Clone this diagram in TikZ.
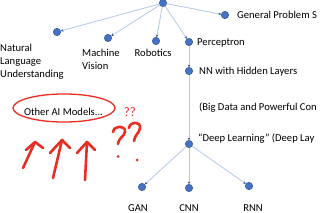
\documentclass[tikz,border=0pt]{standalone}
\usepackage{fontspec}
\setmainfont{Carlito}
\usetikzlibrary{arrows.meta,shapes.geometric}
\definecolor{dotblue}{RGB}{68,114,196}
\definecolor{dotedge}{RGB}{47,82,143}
\definecolor{edgeblue}{RGB}{180,199,231}
\definecolor{penred}{RGB}{232,45,35}
\begin{document}
\begin{tikzpicture}[x=1pt,y=-1pt,every node/.style={font=\fontsize{10.6}{13}\selectfont},
  dot/.style={circle,fill=dotblue,draw=dotedge,line width=0.4pt,minimum size=7.5pt,
    inner sep=0pt},
  lbl/.style={anchor=base west,inner sep=0pt},
  lblc/.style={anchor=base,inner sep=0pt},
  ed/.style={edgeblue,line width=0.8pt,-{Stealth[length=2.5pt,width=2.6pt,dotedge]}},
  pen/.style={penred,line width=2.6pt,line cap=round,line join=round}]
\useasboundingbox (0,0) rectangle (320,213);
\clip (0,0) rectangle (320,213);
\node[dot] (top) at (163,3) {};
\node[dot] (nlu) at (57,32) {};
\node[dot] (mv) at (108,38) {};
\node[dot] (rob) at (156,41) {};
\node[dot] (gps) at (225,15) {};
\node[dot] (perc) at (189,42) {};
\node[dot] (nn) at (189,71) {};
\node[dot] (dl) at (189,144) {};
\node[dot] (gan) at (142,187) {};
\node[dot] (cnn) at (189,188) {};
\node[dot] (rnn) at (249,186) {};
\foreach \t in {nlu,mv,rob,perc,gps} {\draw[ed] (top) -- (\t);}
\draw[ed] (perc) -- (nn); \draw[ed] (nn) -- (dl);
\foreach \t in {gan,cnn,rnn} {\draw[ed] (dl) -- (\t);}
% labels
\node[anchor=north west,inner sep=0pt,align=left] (nlul) at (0,43.5)
  {Natural\\Language\\Understanding};
\node[anchor=north west,inner sep=0pt,align=left] (mvl) at (82,48.5)
  {Machine\\Vision};
\node[lbl] (robl) at (134.5,56.9) {Robotics};
\node[lbl] (gpsl) at (237,18.4) {General Problem S};
\node[lbl] (percl) at (197,45.1) {Perceptron};
\node[lbl] (nnl) at (199,74.4) {NN with Hidden Layers};
\node[lbl] (bigl) at (199,110.4) {(Big Data and Powerful Con};
\node[lbl] (dll) at (198,141.9) {“Deep Learning” (Deep Lay};
\node[lblc] (ganl) at (138,211.2) {GAN};
\node[lblc] (cnnl) at (189,211.4) {CNN};
\node[lblc] (rnnl) at (253,211) {RNN};
% red pen notes
\node[ellipse,draw=penred,line width=1.3pt,minimum width=102pt,minimum height=28pt,
  inner sep=0pt] (oval) at (64,108) {};
\node[lblc] (otherl) at (63.5,115.4) {Other AI Models...};
\node[lblc,text=penred,font=\fontsize{13}{13}\selectfont] (qq) at (130,116.5) {??};
\draw[pen] (23,168) -- (35,142); \draw[pen] (26,150) -- (35,142) -- (43,148);
\draw[pen] (53,178) -- (62,140); \draw[pen] (50,153) -- (62,140) -- (70,148);
\draw[pen] (85,180) -- (87,142); \draw[pen] (77,153) -- (87,142) -- (95,150);
\draw[pen] (113,132) .. controls (114,125) and (126,125) .. (125,132)
  .. controls (124,137) and (119,137) .. (118,144);
\draw[pen] (129,128) .. controls (130,121) and (141,121) .. (140,128)
  .. controls (139,134) and (135,134) .. (134,141);
\fill[penred] (118,156.5) circle (1.5pt);
\fill[penred] (137,160) circle (1.5pt);
\end{tikzpicture}
\end{document}
